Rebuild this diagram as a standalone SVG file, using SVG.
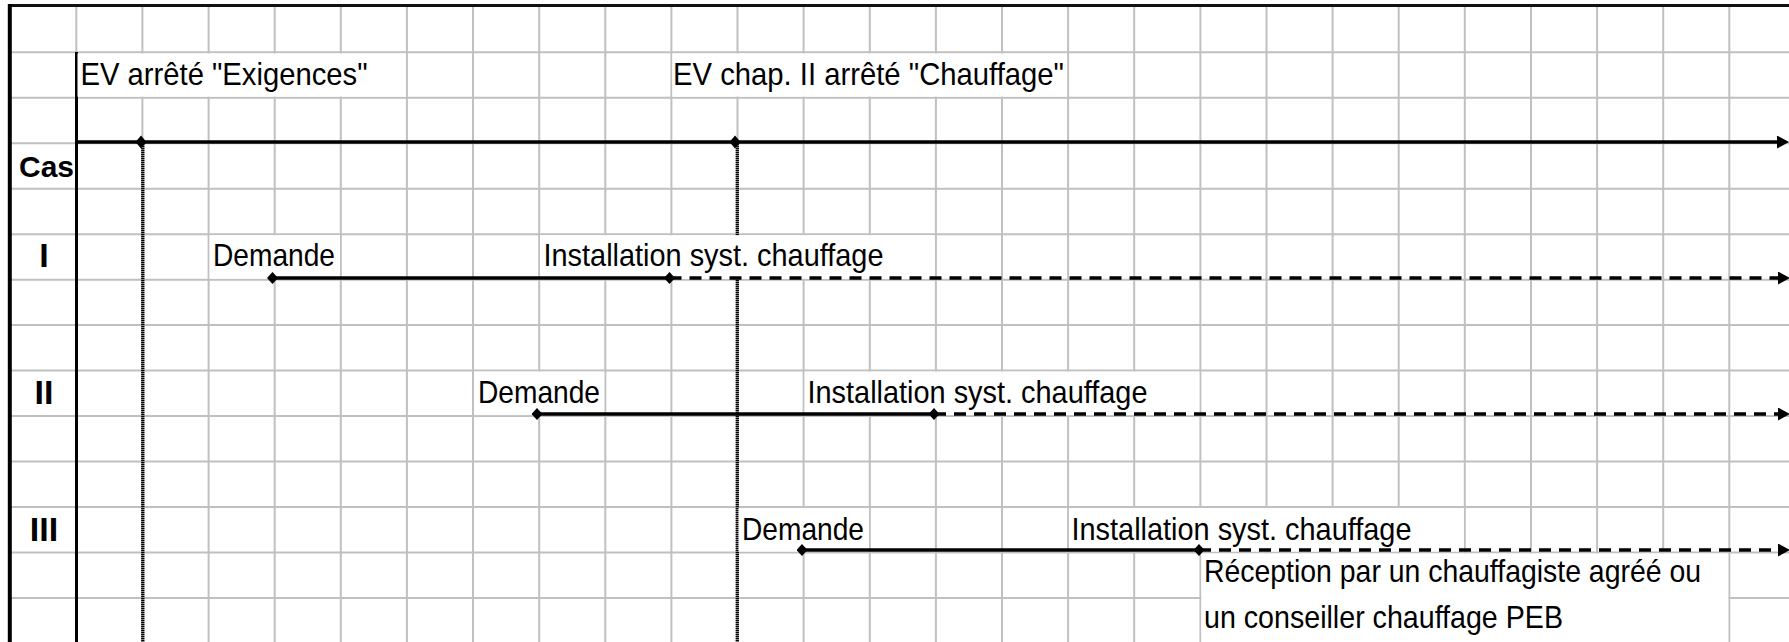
<svg xmlns="http://www.w3.org/2000/svg" width="1789" height="642" viewBox="0 0 1789 642">
<style>
.grid{stroke:#c0c0c0;stroke-width:2;fill:none}
.cell{fill:#ffffff;stroke:none}
.t{font-family:"Liberation Sans",Arial,sans-serif;font-size:30.5px;fill:#000}
.b{font-family:"Liberation Sans",Arial,sans-serif;font-weight:bold;fill:#000}
.solid{stroke:#000;stroke-width:3.5;fill:none}
.dash{stroke:#000;stroke-width:3.5;stroke-dasharray:12 8;fill:none}
.mk1{stroke:#808080;stroke-width:3.2}
.mk2{stroke:#000;stroke-width:3.2;stroke-dasharray:1 1}
</style>
<defs>
<marker id="arrow" markerUnits="userSpaceOnUse" markerWidth="13" markerHeight="14" refX="0" refY="6.5" orient="auto">
<path d="M0,0 L12,6.5 L0,13 z" fill="#000"/>
</marker>
<marker id="dia" markerUnits="userSpaceOnUse" markerWidth="12" markerHeight="13" refX="5.5" refY="6" orient="auto">
<path d="M0,6 L5.5,0 L11,6 L5.5,12 z" fill="#000"/>
</marker>
<path id="diamond" d="M-5.5,0 L0,-6.5 L5.5,0 L0,6.5 z" fill="#000"/>
</defs>
<rect x="0" y="0" width="1789" height="642" fill="#ffffff"/>
<g id="grid">
<path class="grid" d="M76.3,5V52 M142.4,5V642 M208.6,5V642 M274.7,5V642 M340.8,5V642 M406.9,5V642 M473,5V642 M539.2,5V642 M605.3,5V642 M671.4,5V642 M737.5,5V642 M803.6,5V642 M869.8,5V642 M935.9,5V642 M1002,5V642 M1068.1,5V642 M1134.2,5V642 M1200.4,5V642 M1266.5,5V642 M1332.6,5V642 M1398.7,5V642 M1464.8,5V642 M1531,5V642 M1597.1,5V642 M1663.2,5V642 M1729.3,5V642"/>
<path class="grid" d="M10,52.3H1789 M10,97.8H1789 M10,143.2H1789 M10,188.7H1789 M10,234.2H1789 M10,279.7H1789 M10,325.1H1789 M10,370.6H1789 M10,416.1H1789 M10,461.6H1789 M10,507H1789 M10,552.5H1789 M10,598H1789"/>
<line x1="8" y1="5.5" x2="1789" y2="5.5" stroke="#111" stroke-width="3"/>
<line x1="9.8" y1="4" x2="9.8" y2="642" stroke="#000" stroke-width="4"/>
<line x1="76.5" y1="52" x2="76.5" y2="642" stroke="#000" stroke-width="3"/>
</g>
<g id="milestones">
<line class="mk1" x1="142.8" y1="142" x2="142.8" y2="642"/>
<line class="mk2" x1="142.8" y1="142" x2="142.8" y2="642"/>
<line class="mk1" x1="737.3" y1="142" x2="737.3" y2="642"/>
<line class="mk2" x1="737.3" y1="142" x2="737.3" y2="642"/>
</g>
<g id="header">
<g id="label-exigences">
<rect class="cell" x="77.5" y="53.5" width="328.3" height="43.1"/>
<text class="t" x="80.5" y="85" textLength="287" lengthAdjust="spacingAndGlyphs">EV arrêté "Exigences"</text>
</g>
<g id="label-chauffage">
<rect class="cell" x="672.4" y="53.5" width="394.7" height="43.1"/>
<text class="t" x="673" y="85" textLength="391" lengthAdjust="spacingAndGlyphs">EV chap. II arrêté "Chauffage"</text>
</g>
<g id="label-cas">
<text class="b" x="19" y="177" font-size="30">Cas</text>
</g>
</g>
<g id="case-I">
<text class="b" x="44" y="267" font-size="34" text-anchor="middle">I</text>
<rect class="cell" x="209.6" y="235.2" width="130.2" height="43.5"/>
<text class="t" x="213" y="266" textLength="122" lengthAdjust="spacingAndGlyphs">Demande</text>
<rect class="cell" x="540.2" y="235.2" width="394.7" height="43.5"/>
<text class="t" x="543.5" y="266" textLength="340" lengthAdjust="spacingAndGlyphs">Installation syst. chauffage</text>
</g>
<g id="case-II">
<text class="b" x="44" y="404" font-size="34" text-anchor="middle">II</text>
<rect class="cell" x="474" y="371.6" width="130.3" height="43.5"/>
<text class="t" x="478" y="403" textLength="122" lengthAdjust="spacingAndGlyphs">Demande</text>
<rect class="cell" x="804.6" y="371.6" width="394.8" height="43.5"/>
<text class="t" x="807.5" y="403" textLength="340" lengthAdjust="spacingAndGlyphs">Installation syst. chauffage</text>
</g>
<g id="case-III">
<text class="b" x="44" y="541" font-size="34" text-anchor="middle">III</text>
<rect class="cell" x="738.5" y="508" width="130.3" height="43.5"/>
<text class="t" x="742" y="540" textLength="122" lengthAdjust="spacingAndGlyphs">Demande</text>
<rect class="cell" x="1069.1" y="508" width="394.7" height="43.5"/>
<text class="t" x="1071.5" y="540" textLength="340" lengthAdjust="spacingAndGlyphs">Installation syst. chauffage</text>
</g>
<g id="note-reception">
<rect class="cell" x="1201.4" y="553.5" width="526.9" height="90"/>
<text class="t" x="1204" y="582" textLength="497" lengthAdjust="spacingAndGlyphs">Réception par un chauffagiste agréé ou</text>
<text class="t" x="1204" y="628" textLength="359" lengthAdjust="spacingAndGlyphs">un conseiller chauffage PEB</text>
</g>
<g id="connectors">
<line class="solid" x1="75" y1="142" x2="1777" y2="142" stroke-width="4" marker-end="url(#arrow)"/>
<use href="#diamond" x="141" y="142"/>
<use href="#diamond" x="735" y="142"/>
<line class="dash" x1="669.5" y1="278" x2="1778" y2="278" marker-end="url(#arrow)"/>
<line class="solid" x1="272.5" y1="278" x2="669.5" y2="278" marker-start="url(#dia)" marker-end="url(#dia)"/>
<line class="dash" x1="934" y1="414" x2="1778" y2="414" marker-end="url(#arrow)"/>
<line class="solid" x1="537" y1="414" x2="934" y2="414" marker-start="url(#dia)" marker-end="url(#dia)"/>
<line class="dash" x1="1199" y1="550" x2="1778" y2="550" marker-end="url(#arrow)"/>
<line class="solid" x1="802" y1="550" x2="1199" y2="550" marker-start="url(#dia)" marker-end="url(#dia)"/>
</g>
</svg>
